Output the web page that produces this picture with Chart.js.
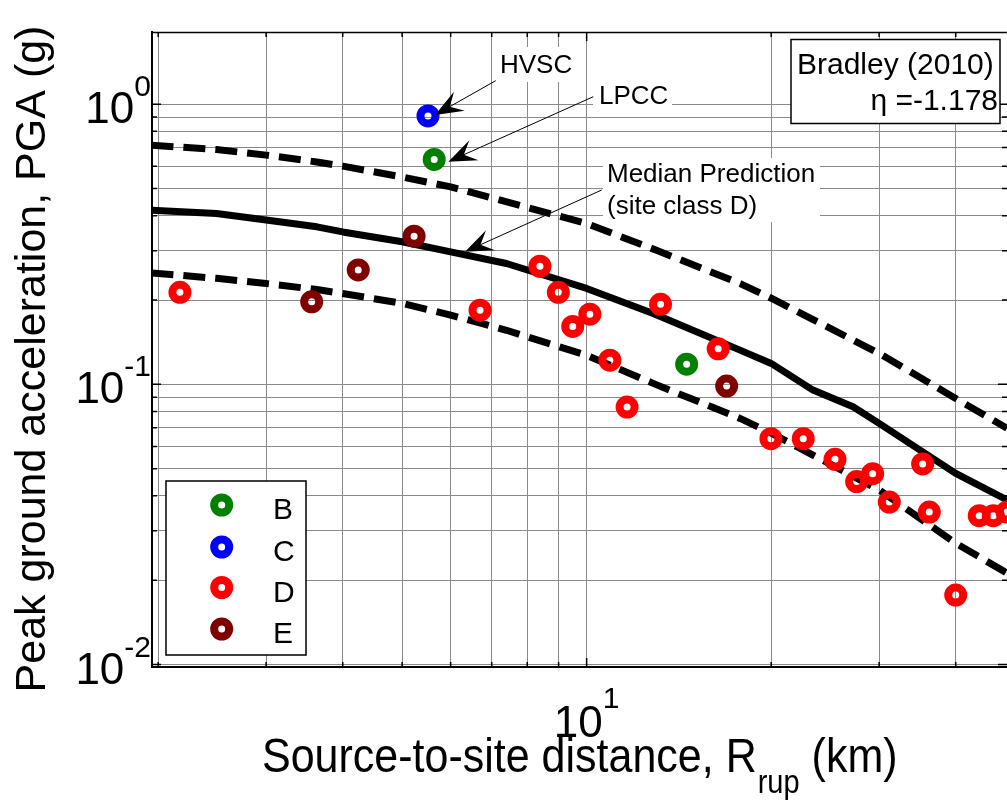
<!DOCTYPE html>
<html><head><meta charset="utf-8">
<script src="https://cdn.jsdelivr.net/npm/chart.js@4.4.0/dist/chart.umd.min.js"></script>
<style>html,body{margin:0;padding:0;background:#fff;overflow:hidden}canvas{display:block}</style>
</head><body>
<canvas id="c" width="1007" height="801"></canvas>
<script>
// ---------- data ----------
const classLabels = ['B', 'C', 'D', 'E'];
const classColors = ['#008000', '#0000ff', '#ff0000', '#800000'];

const rB = [5.64, 14.56];
const pgaB = [0.635, 0.118];
const rC = [5.51];
const pgaC = [0.908];
const rD = [2.17, 6.70, 8.39, 8.99, 9.49, 10.12, 10.91, 11.64, 13.20, 16.39, 19.98, 22.56, 25.42, 27.57, 29.28, 31.17, 35.33, 36.22, 40.0, 43.7, 46.06, 48.5];
const pgaD = [0.213, 0.184, 0.264, 0.213, 0.161, 0.178, 0.122, 0.083, 0.193, 0.134, 0.064, 0.064, 0.054, 0.045, 0.048, 0.038, 0.052, 0.035, 0.0177, 0.034, 0.034, 0.035];
const rE = [3.56, 4.24, 5.23, 16.92];
const pgaE = [0.197, 0.256, 0.338, 0.0986];

const rMedian = [1.95, 2.49, 3.0, 3.63, 4.0, 5.0, 6.0, 7.4, 10, 12.84, 17.79, 20, 23.4, 27.2, 30, 40, 48.5];
const pgaMedian = [0.418, 0.407, 0.386, 0.365, 0.350, 0.323, 0.297, 0.270, 0.220, 0.179, 0.1325, 0.1188, 0.0954, 0.0832, 0.0726, 0.0481, 0.0387];
const rUpper = [1.95, 2.49, 3.0, 3.63, 4.0, 5.0, 6.0, 8.71, 10, 13.0, 17.8, 20, 30, 40, 48.5];
const pgaUpper = [0.714, 0.689, 0.658, 0.622, 0.601, 0.550, 0.507, 0.407, 0.375, 0.301, 0.229, 0.203, 0.129, 0.089, 0.0697];
const rLower = [1.95, 2.49, 3.0, 3.63, 4.0, 5.0, 6.0, 7.4, 10, 12.84, 17.79, 20, 30, 40, 48.5];
const pgaLower = [0.250, 0.239, 0.229, 0.218, 0.211, 0.1945, 0.1767, 0.156, 0.127, 0.1008, 0.0756, 0.067, 0.042, 0.0271, 0.0212];

const xGridValues = [2, 3, 4, 5, 6, 7, 8, 9, 10, 20, 30, 40];
const yGridValues = [0.01, 0.02, 0.03, 0.04, 0.05, 0.06, 0.07, 0.08, 0.09, 0.1, 0.2, 0.3, 0.4, 0.5, 0.6, 0.7, 0.8, 0.9, 1];
const xMajorTicks = [10];
const xTickExponents = ['1'];
const yMajorTicks = [1, 0.1, 0.01];
const yTickExponents = ['0', '-1', '-2'];

const xTitle = 'Source-to-site distance, R';
const xTitleSub = 'rup';
const xTitleEnd = ' (km)';
const yTitle = 'Peak ground acceleration, PGA (g)';
const modelLine1 = 'Bradley (2010)';
const modelLine2 = '\u03b7 =-1.178';
// ----------------------------------------------------

const FONT = "'Liberation Sans', Arial, Helvetica, sans-serif";
const pts = (xs, ys) => xs.map((x, i) => ({x: x, y: ys[i]}));

function markerSet(label, xs, ys, color) {
  return {
    label: label, data: pts(xs, ys), showLine: false,
    pointRadius: 7.5, pointHoverRadius: 7.5, pointBorderWidth: 8, borderWidth: 8,
    borderColor: color, pointBorderColor: color,
    backgroundColor: 'rgba(0,0,0,0)', pointBackgroundColor: 'rgba(0,0,0,0)',
    clip: false
  };
}
function lineSet(label, xs, ys, dash) {
  return {
    label: label, data: pts(xs, ys), showLine: true, pointRadius: 0, pointHoverRadius: 0,
    borderColor: '#000', backgroundColor: '#000', borderWidth: 7, borderDash: dash,
    borderCapStyle: 'butt', borderJoinStyle: 'round', tension: 0, fill: false
  };
}

const decor = {
  id: 'decor',
  afterDraw(chart) {
    const ctx = chart.ctx, a = chart.chartArea, xs = chart.scales.x, ys = chart.scales.y;
    ctx.save();
    // top border
    ctx.strokeStyle = '#000'; ctx.lineWidth = 1.5;
    ctx.beginPath(); ctx.moveTo(a.left, a.top + 0.5); ctx.lineTo(a.right, a.top + 0.5); ctx.stroke();
    // inward ticks
    ctx.lineWidth = 1.5;
    xGridValues.forEach(v => {
      const p = xs.getPixelForValue(v), L = xMajorTicks.includes(v) ? 9 : 5;
      ctx.beginPath();
      ctx.moveTo(p, a.bottom); ctx.lineTo(p, a.bottom - L);
      ctx.moveTo(p, a.top); ctx.lineTo(p, a.top + L);
      ctx.stroke();
    });
    yGridValues.forEach(v => {
      const p = ys.getPixelForValue(v), L = yMajorTicks.includes(v) ? 9 : 5;
      ctx.beginPath();
      ctx.moveTo(a.left, p); ctx.lineTo(a.left + L, p);
      ctx.moveTo(a.right, p); ctx.lineTo(a.right - L, p);
      ctx.stroke();
    });
    // tick labels
    ctx.fillStyle = '#000'; ctx.textBaseline = 'alphabetic'; ctx.textAlign = 'left';
    const baseFont = '44px ' + FONT, expFont = '30px ' + FONT;
    yMajorTicks.forEach((v, i) => {
      const p = ys.getPixelForValue(v);
      ctx.font = expFont; const we = ctx.measureText(yTickExponents[i]).width;
      ctx.font = baseFont; const wb = ctx.measureText('10').width;
      const right = 151;
      ctx.fillText('10', right - we - wb, p + 19);
      ctx.font = expFont; ctx.fillText(yTickExponents[i], right - we, p - 8);
    });
    xMajorTicks.forEach((v, i) => {
      const p = xs.getPixelForValue(v);
      ctx.font = expFont; const we = ctx.measureText(xTickExponents[i]).width;
      ctx.font = baseFont; const wb = ctx.measureText('10').width;
      const left = p - (wb + we) / 2;
      ctx.fillText('10', left, 737);
      ctx.font = expFont; ctx.fillText(xTickExponents[i], left + wb, 708);
    });
    // x axis title (slightly tall glyphs as in the reference)
    ctx.save();
    ctx.translate(0, 772); ctx.scale(1, 1.12);
    ctx.font = '43px ' + FONT;
    let x0 = 262;
    ctx.fillText(xTitle, x0, 0); x0 += ctx.measureText(xTitle).width;
    ctx.font = '29px ' + FONT; ctx.fillText(xTitleSub, x0 + 1, 19); x0 += ctx.measureText(xTitleSub).width + 1;
    ctx.font = '43px ' + FONT; ctx.fillText(xTitleEnd, x0, 0);
    ctx.restore();
    // y axis title
    ctx.save();
    ctx.translate(45, 359); ctx.rotate(-Math.PI / 2);
    ctx.textAlign = 'center'; ctx.font = '43px ' + FONT;
    ctx.fillText(yTitle, 0, 0);
    ctx.restore();

    // annotations
    function box(x1, y1, x2, y2, border) {
      ctx.fillStyle = '#fff'; ctx.fillRect(x1, y1, x2 - x1, y2 - y1);
      if (border) { ctx.strokeStyle = '#000'; ctx.lineWidth = 1.5; ctx.strokeRect(x1, y1, x2 - x1, y2 - y1); }
      ctx.fillStyle = '#000';
    }
    function arrow(x1, y1, x2, y2) {
      ctx.strokeStyle = '#000'; ctx.fillStyle = '#000'; ctx.lineWidth = 1;
      const ang = Math.atan2(y2 - y1, x2 - x1), L = 28, W = 11, N = 17;
      const bx = x2 - N * Math.cos(ang), by = y2 - N * Math.sin(ang);
      ctx.beginPath(); ctx.moveTo(x1, y1); ctx.lineTo(bx, by); ctx.stroke();
      const cx = x2 - L * Math.cos(ang), cy = y2 - L * Math.sin(ang);
      const nx = -Math.sin(ang), ny = Math.cos(ang);
      ctx.beginPath();
      ctx.moveTo(x2, y2);
      ctx.lineTo(cx + nx * W, cy + ny * W);
      ctx.lineTo(bx, by);
      ctx.lineTo(cx - nx * W, cy - ny * W);
      ctx.closePath(); ctx.fill();
    }
    ctx.font = '26px ' + FONT; ctx.textAlign = 'left';
    box(495, 47, 578, 82, false); ctx.fillText('HVSC', 500, 73);
    box(593, 85, 672, 108, false); ctx.fillText('LPCC', 599, 103.5);
    box(603, 158, 820, 222, false);
    ctx.fillText('Median Prediction', 607, 181.5); ctx.fillText('(site class D)', 607, 214);
    arrow(495.7, 80.7, 435, 115);
    arrow(593.3, 96.7, 448.3, 161.7);
    arrow(601.7, 190, 465, 251.7);

    box(791, 39.5, 1000, 123.5, true);
    ctx.font = '30px ' + FONT; ctx.textAlign = 'left'; ctx.fillText(modelLine1, 797, 73.5);
    ctx.textAlign = 'right'; ctx.fillText(modelLine2, 998, 110);

    // legend
    box(166, 481, 306, 655, true);
    const rows = [505, 547, 587.5, 629];
    ctx.font = '30px ' + FONT; ctx.textAlign = 'left';
    classLabels.forEach((lab, i) => {
      ctx.beginPath(); ctx.arc(221.7, rows[i], 7.5, 0, Math.PI * 2);
      ctx.strokeStyle = classColors[i]; ctx.lineWidth = 8; ctx.stroke();
      ctx.fillStyle = '#000'; ctx.fillText(lab, 273, rows[i] + 14);
    });
    ctx.restore();
  }
};

new Chart(document.getElementById('c'), {
  type: 'scatter',
  data: {
    datasets: [
      markerSet(classLabels[0], rB, pgaB, classColors[0]),
      markerSet(classLabels[1], rC, pgaC, classColors[1]),
      markerSet(classLabels[2], rD, pgaD, classColors[2]),
      markerSet(classLabels[3], rE, pgaE, classColors[3]),
      lineSet('Median', rMedian, pgaMedian, []),
      lineSet('Upper', rUpper, pgaUpper, [22, 10]),
      lineSet('Lower', rLower, pgaLower, [22, 10])
    ]
  },
  options: {
    responsive: false, devicePixelRatio: 1, animation: false, events: [],
    layout: {autoPadding: false, padding: {left: 152, right: 0, top: 32, bottom: 134}},
    plugins: {legend: {display: false}, tooltip: {enabled: false}},
    scales: {
      x: {
        type: 'logarithmic', min: 1.954, max: 48.5,
        afterBuildTicks: s => { s.ticks = xGridValues.map(v => ({value: v})); },
        afterFit: s => { s.height = 0; },
        ticks: {display: false},
        grid: {color: '#8a8a8a', lineWidth: 1, drawTicks: false},
        border: {display: true, color: '#000', width: 2}
      },
      y: {
        type: 'logarithmic', min: 0.0098, max: 1.81,
        afterBuildTicks: s => { s.ticks = yGridValues.map(v => ({value: v})); },
        afterFit: s => { s.width = 0; },
        ticks: {display: false},
        grid: {color: '#8a8a8a', lineWidth: 1, drawTicks: false},
        border: {display: true, color: '#000', width: 2}
      }
    }
  },
  plugins: [decor]
});
</script>
</body></html>
